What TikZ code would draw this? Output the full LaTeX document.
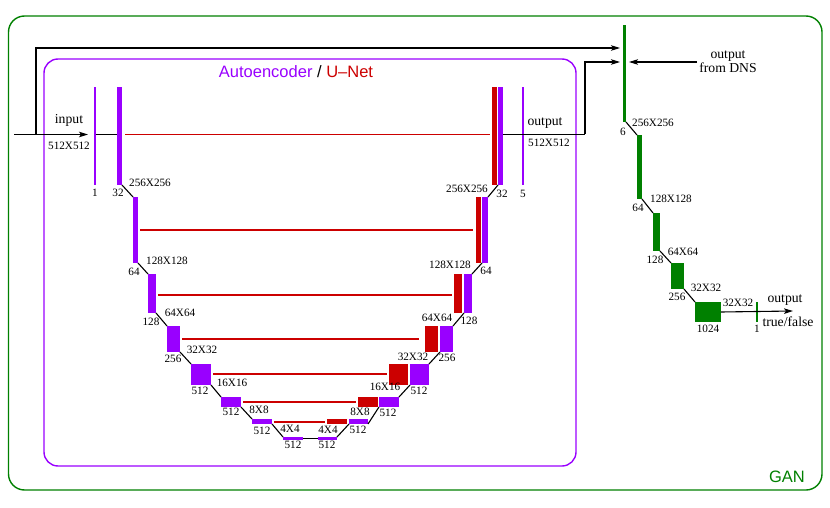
\documentclass[tikz,border=0pt]{standalone}
\usepackage{fontspec}
\setmainfont{Liberation Serif}
\newfontfamily\sansf{Liberation Sans}
\usetikzlibrary{arrows.meta}
\definecolor{pur}{RGB}{153,0,255}
\definecolor{rd}{RGB}{204,0,0}
\definecolor{gn}{RGB}{0,128,0}
\newcommand\mybar[6]{\node[barbox,fill=#6,minimum width={(#4-#2)*1pt},minimum height={(#5-#3)*1pt}] (#1) at ({(#2+#4)/2},{(#3+#5)/2}) {};}
\newcommand\lab[4]{\node[num] (#1) at (#2,#3) {#4};}
\newcommand\wlab[4]{\node[word] (#1) at (#2,#3) {#4};}
\begin{document}
\begin{tikzpicture}[x=1pt,y=-1pt,
 barbox/.style={draw=none,inner sep=0pt,outer sep=0pt,rectangle},
 num/.style={inner sep=0pt,font=\fontsize{11.2}{12}\selectfont},
 word/.style={inner sep=0pt,font=\fontsize{13.7}{15.5}\selectfont,align=center},
 link/.style={line width=1.1pt,black},
 arr/.style={line width=1.1pt,black,-{Stealth[length=9pt,width=5.5pt,inset=2pt]}},
 redline/.style={rd,line width=1.5pt},
 frame/.style={line width=1.4pt,rounded corners=16pt},
]
\useasboundingbox (0,0) rectangle (830,508);
% frames
\node[draw=gn,frame,minimum width=813.5pt,minimum height=474pt,inner sep=0pt] (gan) at (415.25,253) {};
\node[draw=pur,frame,minimum width=532pt,minimum height=407pt,inner sep=0pt,rounded corners=14pt] (ae) at (310,262.5) {};
\node[inner sep=0pt,font=\sansf\fontsize{16.5}{18}\selectfont] (aetitle) at (296,72) {\textcolor{pur}{Autoencoder} / \textcolor{rd}{U–Net}};
\node[inner sep=0pt,font=\sansf\fontsize{16.5}{18}\selectfont,text=gn] (gantitle) at (787,477) {GAN};

% encoder bars
\mybar{in}{94.3}{87}{95.7}{185}{pur}
\mybar{e1}{117}{87}{122}{185}{pur}
\mybar{e2}{133}{197}{138}{263}{pur}
\mybar{e3}{148}{274}{156}{313}{pur}
\mybar{e4}{167}{326}{180}{352}{pur}
\mybar{e5}{191}{364}{211}{385}{pur}
\mybar{e6}{221}{397}{241}{407}{pur}
\mybar{e7}{252}{419}{272}{424}{pur}
\mybar{b1}{283}{437}{303}{439.5}{pur}
\mybar{b2}{318}{437}{337}{439.5}{pur}
% decoder bars
\mybar{d7r}{327}{419}{347}{424}{rd}
\mybar{d7p}{349}{419}{368}{424}{pur}
\mybar{d6r}{358}{397}{378}{407}{rd}
\mybar{d6p}{379}{397}{399}{407}{pur}
\mybar{d5r}{389}{364}{408}{385}{rd}
\mybar{d5p}{410}{364}{429}{385}{pur}
\mybar{d4r}{425}{326}{438}{352}{rd}
\mybar{d4p}{440}{326}{453}{352}{pur}
\mybar{d3r}{454}{274}{462}{313}{rd}
\mybar{d3p}{464}{274}{472}{313}{pur}
\mybar{d2r}{476}{197}{481}{263}{rd}
\mybar{d2p}{482}{197}{488}{263}{pur}
\mybar{d1r}{492}{87}{497}{185}{rd}
\mybar{d1p}{498}{87}{503}{185}{pur}
\mybar{out}{522.3}{87}{523.7}{185}{pur}
% GAN bars
\mybar{g0}{623}{25}{626}{122}{gn}
\mybar{g1}{637}{135}{642}{199}{gn}
\mybar{g2}{653}{213}{660}{251}{gn}
\mybar{g3}{671}{263}{684}{289}{gn}
\mybar{g4}{695}{302}{721}{322}{gn}
\mybar{g5}{756.3}{302}{757.7}{322}{gn}

% input / output wiring coordinates
\coordinate (src) at (14,134.5);
\coordinate (br) at (36,134.5);
\coordinate (inTip) at (88,134.5);
\coordinate (topTip) at (620,48);
\coordinate (outA) at (503,134.5);
\coordinate (outB) at (585,134.5);
\coordinate (outTip) at (620,62);
\coordinate (dnsSrc) at (697,62);
\coordinate (dnsTip) at (629,62);
\coordinate (ganTip) at (793,311);

% skip connections
\draw[redline] ([xshift=3pt]e1.east |- src) -- ([xshift=-2pt]d1r.west |- src);
\draw[redline] ([xshift=2pt]e2.east) -- ([xshift=-3pt]d2r.west);
\draw[redline] ([xshift=2pt,yshift=-1.5pt]e3.east) -- ([xshift=-2pt,yshift=-1.5pt]d3r.west);
\draw[redline] ([xshift=2pt]e4.east) -- ([xshift=-6pt]d4r.west);
\draw[redline] ([xshift=2pt,yshift=0.5pt]e5.east) -- ([xshift=-2pt,yshift=0.5pt]d5r.west);
\draw[redline] ([xshift=2pt]e6.east) -- ([xshift=-2pt]d6r.west);
\draw[redline] ([xshift=2pt,yshift=-0.5pt]e7.east) -- ([xshift=-2pt,yshift=-0.5pt]d7r.west);

% encoder/decoder chain
\draw[link] (in.east |- src) -- (e1.west |- src);
\draw[link] (e1.south east) -- (e2.north west);
\draw[link] (e2.south east) -- (e3.north west);
\draw[link] (e3.south east) -- (e4.north west);
\draw[link] (e4.south east) -- (e5.north west);
\draw[link] (e5.south east) -- (e6.north west);
\draw[link] (e6.south east) -- (e7.north west);
\draw[link] (e7.south east) -- (b1.north west);
\draw[link] (b1.east) -- (b2.west);
\draw[link] (b2.north east) -- (d7p.south west);
\draw[link] (d7p.south east) -- (d6p.south west);
\draw[link] (d6p.north east) -- (d5p.south west);
\draw[link] (d5p.north east) -- (d4p.south west);
\draw[link] (d4p.north east) -- (d3p.south west);
\draw[link] (d3p.north east) -- (d2p.south west);
\draw[link] (d2p.north east) -- (d1p.south west);
% GAN chain
\draw[link] (g0.south east) -- (g1.north west);
\draw[link] (g1.south east) -- (g2.north west);
\draw[link] (g2.south east) -- (g3.north west);
\draw[link] (g3.south east) -- (g4.north west);

\draw[arr] (src) -- (inTip);
\draw[arr] (br) |- (topTip);
\draw[link] (outA) -- (outB);
\draw[arr] (outB) |- (outTip);
\draw[arr] (dnsSrc) -- (dnsTip);
\draw[arr] (g4.east) -- (ganTip);

% word labels
\wlab{tin}{69}{120}{input}
\wlab{tout}{545}{123}{output}
\wlab{tdns}{728}{61.5}{output\\[-1.5pt]from DNS}
\wlab{tgo}{785}{300}{output}
\wlab{ttf}{788}{322}{true/false}

% number labels
\lab{n0a}{69}{146}{512X512}
\lab{n0b}{95}{193}{1}
\lab{n1a}{118}{193}{32}
\lab{n1b}{150}{183}{256X256}
\lab{n2a}{134}{272}{64}
\lab{n2b}{167}{261}{128X128}
\lab{n3a}{151}{322}{128}
\lab{n3b}{180}{313}{64X64}
\lab{n4a}{173}{359}{256}
\lab{n4b}{202}{350}{32X32}
\lab{n5a}{200}{391}{512}
\lab{n5b}{232}{383}{16X16}
\lab{n6a}{231}{412}{512}
\lab{n6b}{259}{410}{8X8}
\lab{n7a}{262}{431}{512}
\lab{n7b}{290}{429}{4X4}
\lab{nb1}{293}{445}{512}
\lab{nb2}{327}{445}{512}
\lab{m7a}{328}{430}{4X4}
\lab{m7b}{358}{430}{512}
\lab{m6a}{360}{412}{8X8}
\lab{m6b}{388}{413}{512}
\lab{m5a}{385}{387}{16X16}
\lab{m5b}{419}{391}{512}
\lab{m4a}{413}{357}{32X32}
\lab{m4b}{447}{358}{256}
\lab{m3a}{437}{318}{64X64}
\lab{m3b}{469}{321}{128}
\lab{m2a}{450}{265}{128X128}
\lab{m2b}{486}{271}{64}
\lab{m1a}{467}{189}{256X256}
\lab{m1b}{502}{194}{32}
\lab{mo}{523}{194}{5}
\lab{mob}{549}{143}{512X512}
% GAN labels
\lab{q0a}{623}{132}{6}
\lab{q0b}{653}{123}{256X256}
\lab{q1a}{638}{208}{64}
\lab{q1b}{671}{199}{128X128}
\lab{q2a}{655}{260}{128}
\lab{q2b}{683}{252}{64X64}
\lab{q3a}{677}{297}{256}
\lab{q3b}{706}{288}{32X32}
\lab{q4a}{708}{329}{1024}
\lab{q4b}{738}{303}{32X32}
\lab{q5a}{757}{329}{1}
\end{tikzpicture}
\end{document}
